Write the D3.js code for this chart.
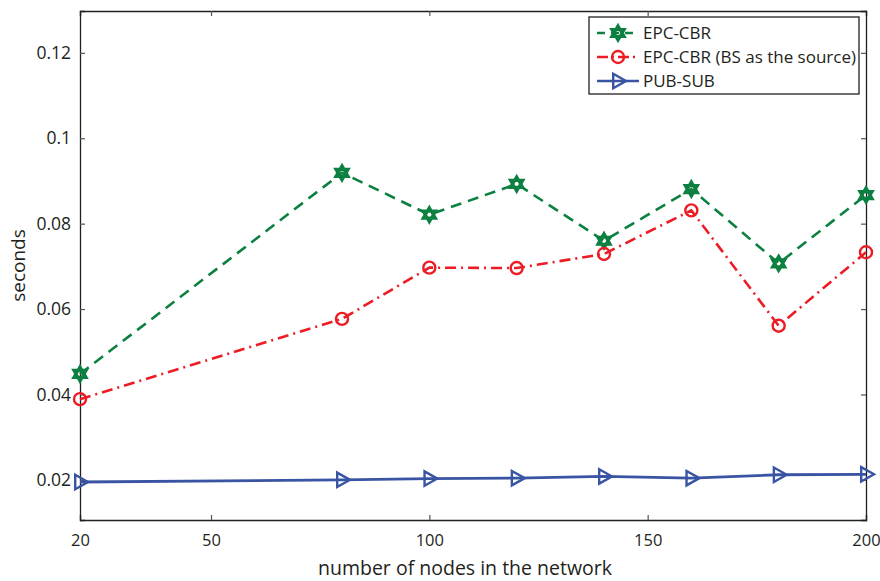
<!DOCTYPE html>
<html>
<head>
<meta charset="utf-8">
<script src="https://cdn.jsdelivr.net/npm/d3@7"></script>
<style>
  body { margin: 0; background: #fff; }
  text { font-family: "Open Sans", sans-serif; fill: #231f20; }
</style>
</head>
<body>
<svg id="chart"></svg>
<script>
const width = 880;
const height = 581;

// data
const nodes = [20, 80, 100, 120, 140, 160, 180, 200];
const epcCbr = [0.0448, 0.0919, 0.0821, 0.0893, 0.0760, 0.0881, 0.0707, 0.0867];
const epcCbrBs = [0.0389, 0.0577, 0.0697, 0.0696, 0.0729, 0.0831, 0.0561, 0.0733];
const pubSub = [0.0195, 0.0200, 0.0203, 0.0204, 0.0208, 0.0204, 0.0212, 0.0213];
const xTicks = [20, 50, 100, 150, 200];
const yTicks = [0.02, 0.04, 0.06, 0.08, 0.1, 0.12];

const series = [
    { name: 'EPC-CBR', values: epcCbr, color: '#0b8040', dash: '11,7', marker: 'star' },
    { name: 'EPC-CBR (BS as the source)', values: epcCbrBs, color: '#ed1c24', dash: '11,5,2,5', marker: 'circle' },
    { name: 'PUB-SUB', values: pubSub, color: '#3a54a4', dash: null, marker: 'triangle' }
];

const margin = { left: 80, right: 14, top: 11, bottom: 61 };

const svg = d3.select('#chart')
    .attr('width', width)
    .attr('height', height);

const x = d3.scaleLinear()
    .domain([20, 200])
    .range([margin.left, width - margin.right]);

const y = d3.scaleLinear()
    .domain([0.0106, 0.1298])
    .range([height - margin.bottom, margin.top]);

// axes (ticks inward, mirrored on top/right)
const fmt = d => String(+d.toFixed(2));

const xAxisG = svg.append('g')
    .attr('class', 'axis')
    .attr('transform', `translate(0,${y.range()[0]})`)
    .call(d3.axisBottom(x).tickValues(xTicks).tickSize(-5).tickPadding(14).tickFormat(d => d));

svg.append('g')
    .attr('class', 'axis')
    .attr('transform', `translate(0,${y.range()[1]})`)
    .call(d3.axisTop(x).tickValues(xTicks).tickSize(-5).tickFormat(''));

svg.append('g')
    .attr('class', 'axis')
    .attr('transform', `translate(${x.range()[0]},0)`)
    .call(d3.axisLeft(y).tickValues(yTicks).tickSize(-5).tickPadding(9).tickFormat(fmt));

svg.append('g')
    .attr('class', 'axis')
    .attr('transform', `translate(${x.range()[1]},0)`)
    .call(d3.axisRight(y).tickValues(yTicks).tickSize(-5).tickFormat(''));

svg.selectAll('.axis path').attr('stroke', '#231f20').attr('stroke-width', 1.3);
svg.selectAll('.axis line').attr('stroke', '#555').attr('stroke-width', 1.2);
svg.selectAll('.axis text')
    .attr('font-family', '"Open Sans", sans-serif')
    .attr('font-size', 17.5)
    .attr('fill', '#231f20');
xAxisG.selectAll('text').attr('font-size', 16.5);

// axis labels
svg.append('text')
    .attr('text-anchor', 'middle')
    .attr('x', 465)
    .attr('y', 575)
    .attr('font-size', 19.5)
    .text('number of nodes in the network');

svg.append('text')
    .attr('text-anchor', 'middle')
    .attr('transform', `translate(25,${(y.range()[0] + y.range()[1]) / 2}) rotate(-90)`)
    .attr('font-size', 19)
    .text('seconds');

// markers
function hexagram(r) {
    const t1 = [0, 1, 2].map(i => {
        const ang = -Math.PI / 2 + i * 2 * Math.PI / 3;
        return [r * Math.cos(ang), r * Math.sin(ang)];
    });
    const t2 = [0, 1, 2].map(i => {
        const ang = Math.PI / 2 + i * 2 * Math.PI / 3;
        return [r * Math.cos(ang), r * Math.sin(ang)];
    });
    return 'M' + t1.join('L') + 'Z' + 'M' + t2.join('L') + 'Z';
}
function triangleRight(r) {
    return `M${r},0L${-r * 0.6},${-r * 0.9}L${-r * 0.6},${r * 0.9}Z`;
}

function drawMarker(g, type, color, cx, cy) {
    if (type === 'circle') {
        g.append('circle')
            .attr('cx', cx).attr('cy', cy).attr('r', 6)
            .attr('fill', 'none').attr('stroke', color).attr('stroke-width', 2.4);
    } else if (type === 'star') {
        g.append('path')
            .attr('transform', `translate(${cx},${cy})`)
            .attr('d', hexagram(7))
            .attr('fill', 'none').attr('stroke', color).attr('stroke-width', 3.2)
            .attr('stroke-linejoin', 'miter');
    } else {
        g.append('path')
            .attr('transform', `translate(${cx},${cy})`)
            .attr('d', triangleRight(8))
            .attr('fill', 'none').attr('stroke', color).attr('stroke-width', 2.4);
    }
}

const line = d3.line()
    .x((d, i) => x(nodes[i]))
    .y(d => y(d));

series.forEach(s => {
    const g = svg.append('g');
    g.append('path')
        .datum(s.values)
        .attr('d', line)
        .attr('fill', 'none')
        .attr('stroke', s.color)
        .attr('stroke-width', s.dash ? 2.6 : 2.8)
        .attr('stroke-dasharray', s.dash);
    s.values.forEach((v, i) => drawMarker(g, s.marker, s.color, x(nodes[i]), y(v)));
});

// legend
const legend = svg.append('g')
    .attr('transform', 'translate(589,17)');

legend.append('rect')
    .attr('width', 270)
    .attr('height', 77)
    .attr('fill', '#fff')
    .attr('stroke', '#231f20')
    .attr('stroke-width', 1.3);

series.forEach((s, i) => {
    const cy = 16 + i * 24;
    legend.append('line')
        .attr('x1', 8).attr('x2', 50)
        .attr('y1', cy).attr('y2', cy)
        .attr('stroke', s.color)
        .attr('stroke-width', 2.6)
        .attr('stroke-dasharray', s.dash ? (s.marker === 'star' ? '8,6' : '11,4,2,4') : null);
    drawMarker(legend, s.marker, s.color, 29, cy);
    legend.append('text')
        .attr('x', 54)
        .attr('y', cy + 6)
        .attr('font-size', 17)
        .text(s.name);
});
</script>
</body>
</html>
